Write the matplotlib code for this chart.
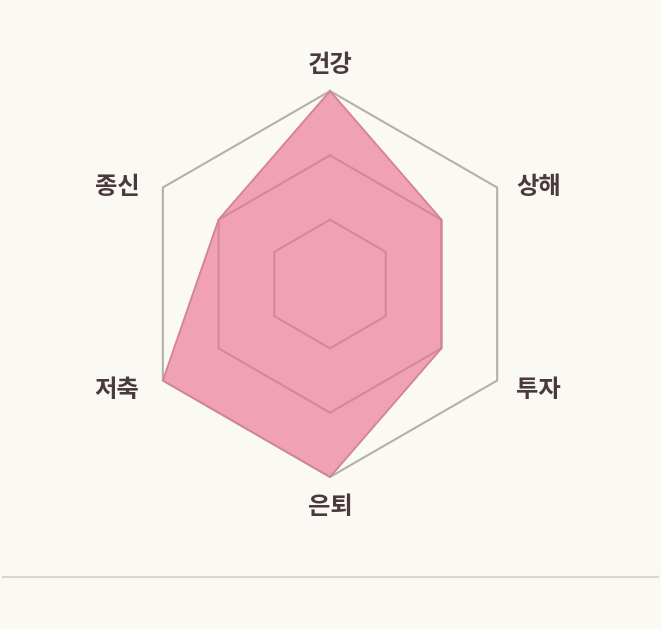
import numpy as np
import matplotlib
matplotlib.use("Agg")
import matplotlib.pyplot as plt
from matplotlib.lines import Line2D

plt.rcParams['font.family'] = ['Noto Sans CJK KR', 'DejaVu Sans']

labels = ['건강', '상해', '투자', '은퇴', '저축', '종신']
values = [3, 2, 2, 3, 3, 2]
levels = [1, 2, 3]

bg = '#faf9f3'
fig = plt.figure(figsize=(6.61, 6.29), dpi=100, facecolor=bg)
ax = fig.add_axes([0, 0, 1, 1])
ax.set_facecolor(bg)
ax.set_xlim(-5.13, 5.145)
ax.set_ylim(-5.363, 4.415)
ax.axis('off')

# angles clockwise from top
ang = np.pi / 2 - np.arange(len(labels)) * 2 * np.pi / len(labels)

v = np.array(values, dtype=float)
px = v * np.cos(ang)
py = v * np.sin(ang)
ax.fill(px, py, color='#ee8fa6', alpha=0.82, zorder=2)
ax.plot(np.append(px, px[0]), np.append(py, py[0]), color='#d4849a', lw=1.3, zorder=3)

for lv in levels:
    xs = np.append(lv * np.cos(ang), lv * np.cos(ang[0]))
    ys = np.append(lv * np.sin(ang), lv * np.sin(ang[0]))
    if lv == max(levels):
        ax.plot(xs, ys, color='#b3b1a8', lw=1.5, zorder=1)
    else:
        ax.plot(xs, ys, color='#d3889c', lw=1.5, zorder=2.5)

for lab, a in zip(labels, ang):
    c, s = np.cos(a), np.sin(a)
    if abs(c) < 0.01:
        x, y = 0, (3.40 if s > 0 else -3.47)
    else:
        x = 3.24 if c > 0 else -3.31
        y = 1.51 if s > 0 else -1.64
    ax.text(x, y, lab, ha='center', va='center', fontsize=17.5, fontweight='bold',
            color='#4a3a3e', zorder=4)

fig.add_artist(Line2D([3 / 661, 658 / 661], [52 / 629, 52 / 629],
                      transform=fig.transFigure, color='#d9d7d1', lw=1.5))

fig.savefig('out.png', dpi=100, facecolor=bg)
